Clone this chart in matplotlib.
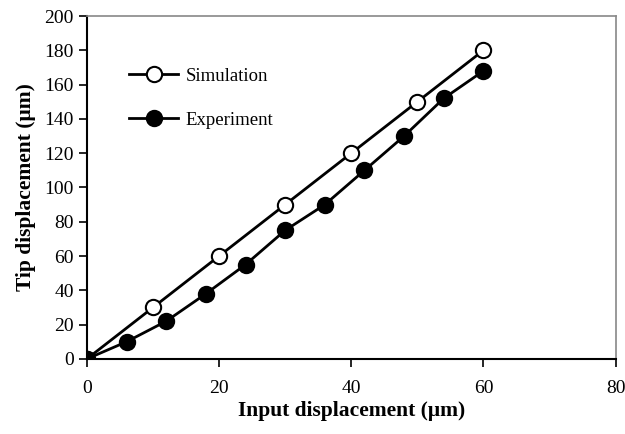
import matplotlib
matplotlib.use("Agg")
import matplotlib.pyplot as plt

sim_x = [0, 10, 20, 30, 40, 50, 60]
sim_y = [0, 30, 60, 90, 120, 150, 180]
exp_x = [0, 6, 12, 18, 24, 30, 36, 42, 48, 54, 60]
exp_y = [0, 10, 22, 38, 55, 75, 90, 110, 130, 152, 168]
x_ticks = [0, 20, 40, 60, 80]
y_ticks = [0, 20, 40, 60, 80, 100, 120, 140, 160, 180, 200]

plt.rcParams['font.family'] = ['Liberation Serif', 'DejaVu Serif']

fig = plt.figure(figsize=(6.25, 4.34), dpi=100)
ax = fig.add_axes([0.139, 0.173, 0.846, 0.790])

ax.plot(sim_x, sim_y, color='black', lw=2, marker='o', ms=11, mfc='white',
        mec='black', mew=1.5, label='Simulation', zorder=3)
ax.plot(exp_x, exp_y, color='black', lw=2, marker='o', ms=11, mfc='black',
        mec='black', mew=1.5, label='Experiment', zorder=4)

ax.set_xlim(0, 80)
ax.set_ylim(0, 200)
ax.set_xticks(x_ticks)
ax.set_yticks(y_ticks)
ax.tick_params(axis='both', direction='out', length=6, width=1.2,
               labelsize=14, top=False, right=False)
ax.tick_params(axis='x', pad=9)
for s in ['left', 'bottom']:
    ax.spines[s].set_linewidth(1.5)
    ax.spines[s].set_color('black')
for s in ['top', 'right']:
    ax.spines[s].set_linewidth(1.2)
    ax.spines[s].set_color('#888888')

ax.set_xlabel('Input displacement (\u03bcm)', fontsize=15.5, fontweight='bold', labelpad=3)
ax.set_ylabel('Tip displacement (\u03bcm)', fontsize=15.5, fontweight='bold', labelpad=6)

ax.legend(loc='upper left', bbox_to_anchor=(0.08, 0.85), frameon=False,
          fontsize=13.5, handlelength=2.6, handletextpad=0.4, labelspacing=1.45,
          borderpad=0, borderaxespad=0)

fig.savefig('out.png', dpi=100, facecolor='white')
